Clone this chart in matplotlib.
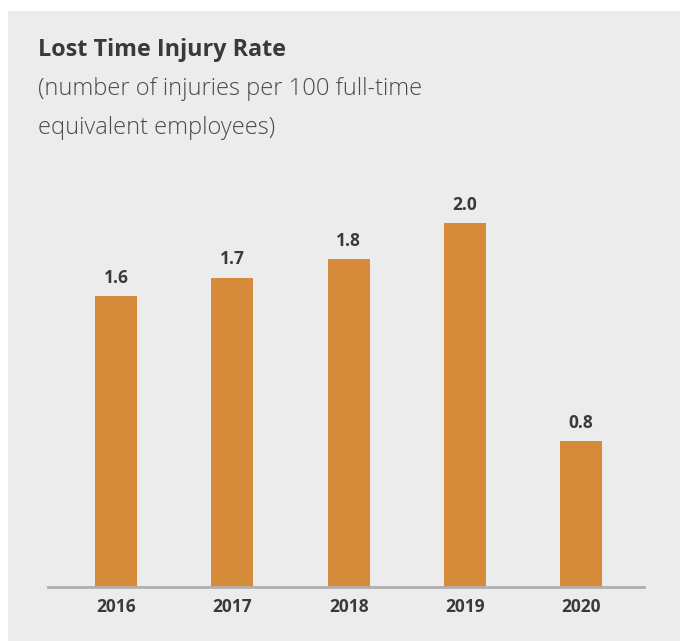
import matplotlib.pyplot as plt

years = ['2016', '2017', '2018', '2019', '2020']
rates = [1.6, 1.7, 1.8, 2.0, 0.8]
labels = ['1.6', '1.7', '1.8', '2.0', '0.8']

bg = '#ececec'
bar_col = '#d58b3a'
txt = '#3a3a3a'

plt.rcParams['font.family'] = ['Open Sans', 'DejaVu Sans']

fig = plt.figure(figsize=(6.8, 6.41), dpi=100, facecolor='white')
# grey panel behind everything
panel = fig.add_axes([8 / 680, 0, 1 - 8 / 680, 1 - 11 / 641], zorder=0)
panel.set_facecolor(bg)
panel.set_xticks([])
panel.set_yticks([])
for s in panel.spines.values():
    s.set_visible(False)

fig.text(38 / 680, 1 - 50 / 641, 'Lost Time Injury Rate', fontsize=16.8, fontweight='bold',
         color=txt, va='center', ha='left')
fig.text(38 / 680, 1 - 89 / 641, '(number of injuries per 100 full-time', fontsize=17,
         fontweight='light', color='#4a4a4a', va='center', ha='left')
fig.text(38 / 680, 1 - 128 / 641, 'equivalent employees)', fontsize=17,
         fontweight='light', color='#4a4a4a', va='center', ha='left')

ax = fig.add_axes([48 / 680, 1 - 587 / 641, (644 - 48) / 680, (587 - 160) / 641], zorder=1)
ax.set_facecolor('none')
x = range(len(years))
bars = ax.bar(x, rates, width=0.36, color=bar_col, zorder=2)
for b, lab in zip(bars, labels):
    ax.text(b.get_x() + b.get_width() / 2, b.get_height() + 0.05, lab, ha='center',
            va='bottom', fontsize=12.5, fontweight='bold', color=txt)

ax.set_xlim(-0.585, 4.54)
ax.set_ylim(0, 2.346)
for s in ['top', 'right', 'left']:
    ax.spines[s].set_visible(False)
ax.spines['bottom'].set_color('#b0b0b0')
ax.spines['bottom'].set_linewidth(2)
ax.set_yticks([])
ax.set_xticks(list(x))
ax.set_xticklabels(years, fontsize=12.5, fontweight='bold', color=txt)
ax.tick_params(axis='x', length=0, pad=8)

fig.savefig('out.png', dpi=100, facecolor=fig.get_facecolor())
